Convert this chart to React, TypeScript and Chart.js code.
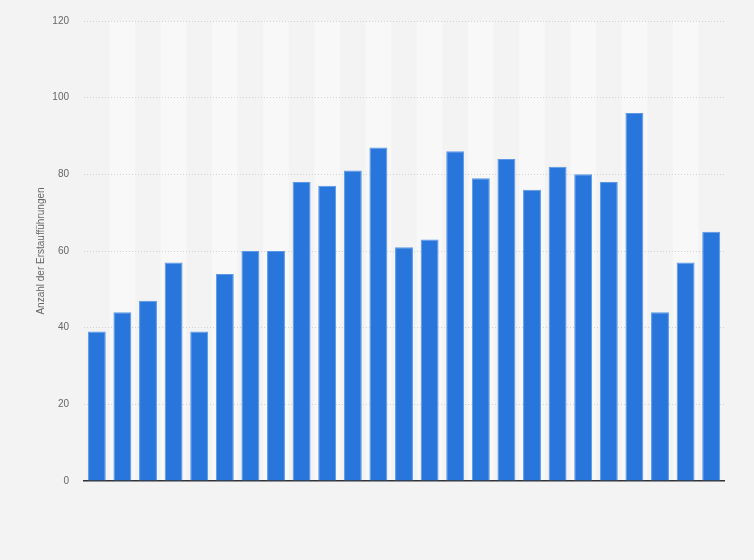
import React, { useEffect, useRef } from "react";
import { Chart, registerables } from "chart.js";

Chart.register(...registerables);

const categories: string[] = Array.from({ length: 25 }, (_, i) => String(i + 1));
const values: number[] = [
  39, 44, 47, 57, 39, 54, 60, 60, 78, 77, 81, 87, 61, 63, 86, 79, 84, 76, 82, 80, 78, 96, 44, 57, 65,
];
const yTicks: number[] = [0, 20, 40, 60, 80, 100, 120];
const yTitle = "Anzahl der Erstaufführungen";

const PAGE_BG = "#f3f3f3";
const STRIPE = "#f8f8f8";
const BAR = "#2876dc";

const bgPlugin = {
  id: "bgStripes",
  beforeDraw(chart: any) {
    const { ctx, chartArea, scales } = chart;
    ctx.save();
    ctx.fillStyle = PAGE_BG;
    ctx.fillRect(0, 0, chart.width, chart.height);
    const x = scales.x;
    const n = categories.length;
    const w = (chartArea.right - chartArea.left) / n;
    ctx.fillStyle = STRIPE;
    for (let i = 1; i < n; i += 2) {
      const c = x.getPixelForValue(i);
      ctx.fillRect(c - w / 2, chartArea.top, w, chartArea.bottom - chartArea.top);
    }
    ctx.restore();
  },
};

export default function App() {
  const ref = useRef<HTMLCanvasElement | null>(null);
  useEffect(() => {
    document.body.style.margin = "0";
    document.body.style.background = PAGE_BG;
    if (!ref.current) return;
    const chart = new Chart(ref.current, {
      type: "bar",
      data: {
        labels: categories,
        datasets: [
          {
            data: values,
            backgroundColor: BAR,
            borderColor: "#5b97e6",
            borderWidth: 1,
            barPercentage: 0.7,
            categoryPercentage: 1,
          },
        ],
      },
      plugins: [bgPlugin],
      options: {
        animation: false,
        responsive: false,
        maintainAspectRatio: false,
        devicePixelRatio: 1,
        layout: { padding: { left: 0, right: 30, top: 20, bottom: 79 } },
        plugins: { legend: { display: false }, tooltip: { enabled: false } },
        scales: {
          x: {
            ticks: { display: false },
            grid: { display: false, drawTicks: false },
            border: { display: true, color: "#333333", width: 1.5 },
            afterFit: (axis: any) => {
              axis.height = 0;
            },
          },
          y: {
            min: 0,
            max: 120,
            afterBuildTicks: (axis: any) => {
              axis.ticks = yTicks.map((v) => ({ value: v }));
            },
            ticks: {
              color: "#666666",
              font: { family: "Liberation Sans, Arial, sans-serif", size: 10 },
              padding: 15,
            },
            grid: {
              drawTicks: false,
              color: (c: any) => (c.tick && c.tick.value === 0 ? "rgba(0,0,0,0)" : "#d2d2d2"),
              lineWidth: 1,
            },
            border: { display: false, dash: [1, 2] },
            title: {
              display: true,
              text: yTitle,
              color: "#666666",
              font: { family: "Liberation Sans, Arial, sans-serif", size: 10 },
              padding: { top: 35, bottom: 0 },
            },
            afterFit: (axis: any) => {
              axis.width = 84;
            },
          },
        },
      },
    });
    return () => chart.destroy();
  }, []);
  return (
    <div style={{ width: 754, height: 560, background: PAGE_BG }}>
      <canvas ref={ref} width={754} height={560} style={{ display: "block" }} />
    </div>
  );
}
